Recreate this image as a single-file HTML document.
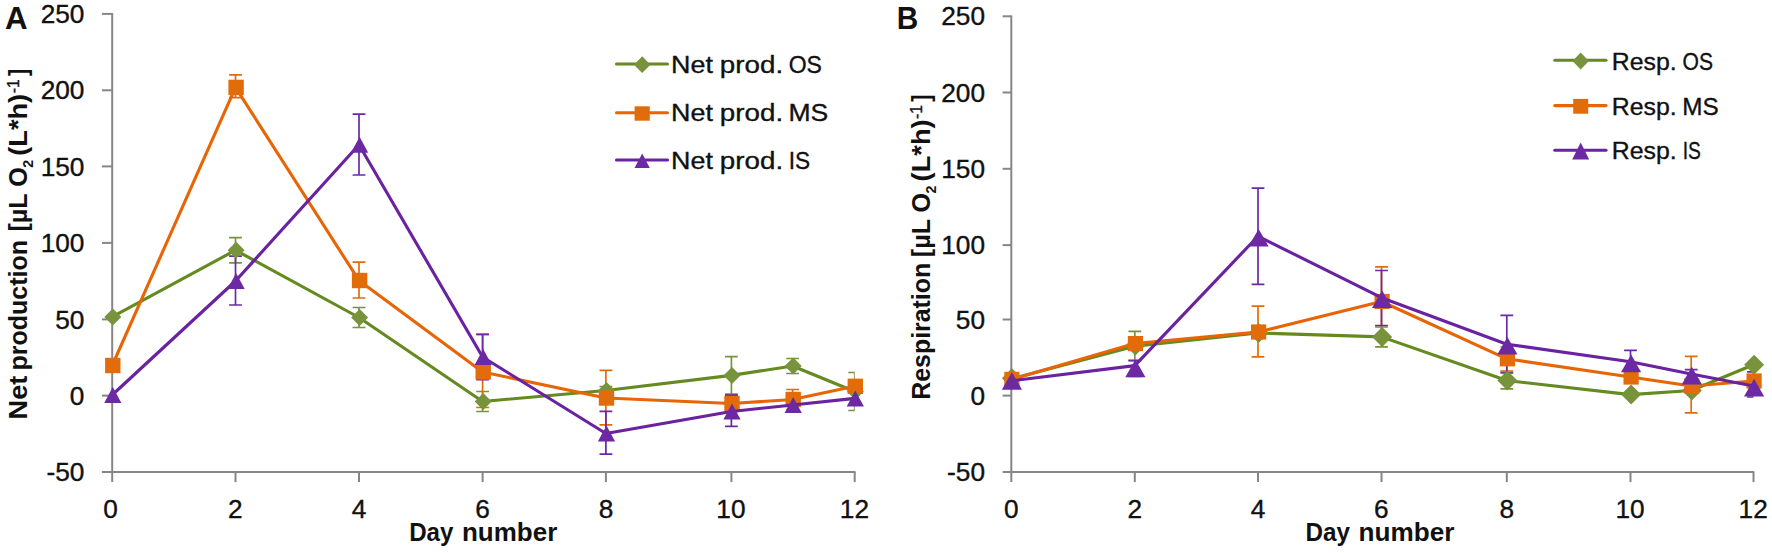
<!DOCTYPE html>
<html lang="en"><head><meta charset="utf-8"><title>Net production and respiration</title>
<style>html,body{margin:0;padding:0;background:#fff;}svg{display:block;}text{font-family:"Liberation Sans","DejaVu Sans",sans-serif;}</style></head>
<body><svg width="1772" height="553" viewBox="0 0 1772 553">
<rect width="1772" height="553" fill="#fff"/>
<g stroke="#868686" stroke-width="2.0" fill="none">
<line x1="112.2" y1="13.1" x2="112.2" y2="482.1"/>
<line x1="101.9" y1="472.1" x2="855.5" y2="472.1"/>
<line x1="101.9" y1="13.90" x2="112.2" y2="13.90"/>
<line x1="101.9" y1="90.30" x2="112.2" y2="90.30"/>
<line x1="101.9" y1="166.40" x2="112.2" y2="166.40"/>
<line x1="101.9" y1="242.90" x2="112.2" y2="242.90"/>
<line x1="101.9" y1="319.40" x2="112.2" y2="319.40"/>
<line x1="101.9" y1="395.60" x2="112.2" y2="395.60"/>
<line x1="235.50" y1="472.1" x2="235.50" y2="482.1"/>
<line x1="359.00" y1="472.1" x2="359.00" y2="482.1"/>
<line x1="482.60" y1="472.1" x2="482.60" y2="482.1"/>
<line x1="605.90" y1="472.1" x2="605.90" y2="482.1"/>
<line x1="731.40" y1="472.1" x2="731.40" y2="482.1"/>
<line x1="854.70" y1="472.1" x2="854.70" y2="482.1"/>
</g>
<clipPath id="clipA"><rect x="112.2" y="13.9" width="742.5" height="458.2"/></clipPath>
<g stroke="#77933C" stroke-width="1.7" fill="none" clip-path="url(#clipA)">
<path d="M235.5,237.6V262.8M229.1,237.6H241.9M229.1,262.8H241.9"/>
<path d="M359.0,307.5V327.5M352.6,307.5H365.4M352.6,327.5H365.4"/>
<path d="M482.6,391.5V411.5M476.2,391.5H489.0M476.2,411.5H489.0"/>
<path d="M605.9,386.5V394.5M599.5,386.5H612.3M599.5,394.5H612.3"/>
<path d="M731.4,356.7V394.1M725.0,356.7H737.8M725.0,394.1H737.8"/>
<path d="M792.6,358.5V373.5M786.2,358.5H799.0M786.2,373.5H799.0"/>
<path d="M854.7,372.5V410.5M848.3,372.5H861.1M848.3,410.5H861.1"/>
</g>
<g stroke="#E36C0A" stroke-width="1.7" fill="none" clip-path="url(#clipA)">
<path d="M235.5,74.9V97.6M229.1,74.9H241.9M229.1,97.6H241.9"/>
<path d="M359.0,262.2V298.0M352.6,262.2H365.4M352.6,298.0H365.4"/>
<path d="M482.6,334.3V407.5M476.2,334.3H489.0M476.2,407.5H489.0"/>
<path d="M605.9,370.4V424.9M599.5,370.4H612.3M599.5,424.9H612.3"/>
<path d="M731.4,395.5V411.5M725.0,395.5H737.8M725.0,411.5H737.8"/>
<path d="M792.6,389.5V409.5M786.2,389.5H799.0M786.2,409.5H799.0"/>
</g>
<g stroke="#6D28A4" stroke-width="1.7" fill="none" clip-path="url(#clipA)">
<path d="M235.5,256.2V305.0M229.1,256.2H241.9M229.1,305.0H241.9"/>
<path d="M359.0,114.1V175.0M352.6,114.1H365.4M352.6,175.0H365.4"/>
<path d="M482.6,334.3V379.7M476.2,334.3H489.0M476.2,379.7H489.0"/>
<path d="M605.9,411.4V454.2M599.5,411.4H612.3M599.5,454.2H612.3"/>
<path d="M731.4,395.2V426.3M725.0,395.2H737.8M725.0,426.3H737.8"/>
<path d="M792.6,399.0V411.0M786.2,399.0H799.0M786.2,411.0H799.0"/>
</g>
<path d="M112.2,316.9 L235.5,250.2 L359.0,317.5 L482.6,401.5 L605.9,390.5 L731.4,375.4 L792.6,366.0 L854.7,391.5" stroke="#648A20" stroke-width="3.1" fill="none" stroke-linejoin="round" stroke-linecap="round"/>
<polygon points="104.3,316.9 112.8,308.4 121.3,316.9 112.8,325.4" fill="#77933C"/>
<polygon points="227.6,250.2 236.1,241.7 244.6,250.2 236.1,258.7" fill="#77933C"/>
<polygon points="351.1,317.5 359.6,309.0 368.1,317.5 359.6,326.0" fill="#77933C"/>
<polygon points="474.7,401.5 483.2,393.0 491.7,401.5 483.2,410.0" fill="#77933C"/>
<polygon points="598.0,390.5 606.5,382.0 615.0,390.5 606.5,399.0" fill="#77933C"/>
<polygon points="723.5,375.4 732.0,366.9 740.5,375.4 732.0,383.9" fill="#77933C"/>
<polygon points="784.7,366.0 793.2,357.5 801.7,366.0 793.2,374.5" fill="#77933C"/>
<polygon points="846.8,391.5 855.3,383.0 863.8,391.5 855.3,400.0" fill="#77933C"/>
<path d="M112.2,365.5 L235.5,87.4 L359.0,280.5 L482.6,372.0 L605.9,398.0 L731.4,403.5 L792.6,399.5 L854.7,386.3" stroke="#E86506" stroke-width="3.1" fill="none" stroke-linejoin="round" stroke-linecap="round"/>
<rect x="105.1" y="357.8" width="15.4" height="15.4" fill="#E36C0A"/>
<rect x="228.4" y="79.7" width="15.4" height="15.4" fill="#E36C0A"/>
<rect x="351.9" y="272.8" width="15.4" height="15.4" fill="#E36C0A"/>
<rect x="475.5" y="364.3" width="15.4" height="15.4" fill="#E36C0A"/>
<rect x="598.8" y="390.3" width="15.4" height="15.4" fill="#E36C0A"/>
<rect x="724.3" y="395.8" width="15.4" height="15.4" fill="#E36C0A"/>
<rect x="785.5" y="391.8" width="15.4" height="15.4" fill="#E36C0A"/>
<rect x="847.6" y="378.6" width="15.4" height="15.4" fill="#E36C0A"/>
<path d="M112.2,395.0 L235.5,281.0 L359.0,144.8 L482.6,357.0 L605.9,433.5 L731.4,411.5 L792.6,405.0 L854.7,398.4" stroke="#6A22A0" stroke-width="3.1" fill="none" stroke-linejoin="round" stroke-linecap="round"/>
<polygon points="112.8,387.0 121.4,403.0 104.2,403.0" fill="#6D28A4"/>
<polygon points="236.1,273.0 244.7,289.0 227.5,289.0" fill="#6D28A4"/>
<polygon points="359.6,136.8 368.2,152.8 351.0,152.8" fill="#6D28A4"/>
<polygon points="483.2,349.0 491.8,365.0 474.6,365.0" fill="#6D28A4"/>
<polygon points="606.5,425.5 615.1,441.5 597.9,441.5" fill="#6D28A4"/>
<polygon points="732.0,403.5 740.6,419.5 723.4,419.5" fill="#6D28A4"/>
<polygon points="793.2,397.0 801.8,413.0 784.6,413.0" fill="#6D28A4"/>
<polygon points="855.3,390.4 863.9,406.4 846.7,406.4" fill="#6D28A4"/>
<g stroke="#868686" stroke-width="2.0" fill="none">
<line x1="1011.3" y1="15.5" x2="1011.3" y2="482.1"/>
<line x1="1002.5999999999999" y1="472.1" x2="1754.3" y2="472.1"/>
<line x1="1002.5999999999999" y1="16.30" x2="1011.3" y2="16.30"/>
<line x1="1002.5999999999999" y1="92.50" x2="1011.3" y2="92.50"/>
<line x1="1002.5999999999999" y1="168.80" x2="1011.3" y2="168.80"/>
<line x1="1002.5999999999999" y1="245.10" x2="1011.3" y2="245.10"/>
<line x1="1002.5999999999999" y1="319.50" x2="1011.3" y2="319.50"/>
<line x1="1002.5999999999999" y1="395.60" x2="1011.3" y2="395.60"/>
<line x1="1134.80" y1="472.1" x2="1134.80" y2="482.1"/>
<line x1="1258.00" y1="472.1" x2="1258.00" y2="482.1"/>
<line x1="1381.50" y1="472.1" x2="1381.50" y2="482.1"/>
<line x1="1506.80" y1="472.1" x2="1506.80" y2="482.1"/>
<line x1="1630.50" y1="472.1" x2="1630.50" y2="482.1"/>
<line x1="1753.50" y1="472.1" x2="1753.50" y2="482.1"/>
</g>
<clipPath id="clipB"><rect x="1011.3" y="16.3" width="742.2" height="455.8"/></clipPath>
<g stroke="#77933C" stroke-width="1.7" fill="none" clip-path="url(#clipB)">
<path d="M1134.8,331.4V360.4M1128.4,331.4H1141.2M1128.4,360.4H1141.2"/>
<path d="M1381.5,327.0V346.8M1375.1,327.0H1387.9M1375.1,346.8H1387.9"/>
<path d="M1506.8,372.2V388.8M1500.4,372.2H1513.2M1500.4,388.8H1513.2"/>
</g>
<g stroke="#E36C0A" stroke-width="1.7" fill="none" clip-path="url(#clipB)">
<path d="M1258.0,306.1V356.8M1251.6,306.1H1264.4M1251.6,356.8H1264.4"/>
<path d="M1381.5,266.9V336.0M1375.1,266.9H1387.9M1375.1,336.0H1387.9"/>
<path d="M1506.8,347.0V371.0M1500.4,347.0H1513.2M1500.4,371.0H1513.2"/>
<path d="M1691.2,356.4V412.9M1684.8,356.4H1697.6M1684.8,412.9H1697.6"/>
</g>
<g stroke="#6D28A4" stroke-width="1.7" fill="none" clip-path="url(#clipB)">
<path d="M1134.8,360.6V376.4M1128.4,360.6H1141.2M1128.4,376.4H1141.2"/>
<path d="M1258.0,188.1V284.3M1251.6,188.1H1264.4M1251.6,284.3H1264.4"/>
<path d="M1381.5,270.5V325.5M1375.1,270.5H1387.9M1375.1,325.5H1387.9"/>
<path d="M1506.8,315.4V373.0M1500.4,315.4H1513.2M1500.4,373.0H1513.2"/>
<path d="M1630.5,350.4V374.5M1624.1,350.4H1636.9M1624.1,374.5H1636.9"/>
<path d="M1691.2,369.7V385.0M1684.8,369.7H1697.6M1684.8,385.0H1697.6"/>
<path d="M1753.5,371.8V397.0M1747.1,371.8H1759.9M1747.1,397.0H1759.9"/>
</g>
<path d="M1011.3,378.8 L1134.8,346.3 L1258.0,333.0 L1381.5,336.9 L1506.8,380.5 L1630.5,394.6 L1691.2,390.5 L1753.5,364.8" stroke="#648A20" stroke-width="3.1" fill="none" stroke-linejoin="round" stroke-linecap="round"/>
<polygon points="1001.9,378.2 1011.9,368.2 1021.9,378.2 1011.9,388.2" fill="#77933C"/>
<polygon points="1125.4,345.5 1135.4,335.5 1145.4,345.5 1135.4,355.5" fill="#77933C"/>
<polygon points="1248.6,333.0 1258.6,323.0 1268.6,333.0 1258.6,343.0" fill="#77933C"/>
<polygon points="1372.1,336.9 1382.1,326.9 1392.1,336.9 1382.1,346.9" fill="#77933C"/>
<polygon points="1497.4,380.5 1507.4,370.5 1517.4,380.5 1507.4,390.5" fill="#77933C"/>
<polygon points="1621.1,394.6 1631.1,384.6 1641.1,394.6 1631.1,404.6" fill="#77933C"/>
<polygon points="1681.8,390.5 1691.8,380.5 1701.8,390.5 1691.8,400.5" fill="#77933C"/>
<polygon points="1744.1,364.8 1754.1,354.8 1764.1,364.8 1754.1,374.8" fill="#77933C"/>
<path d="M1011.3,379.4 L1134.8,343.6 L1258.0,332.0 L1381.5,301.5 L1506.8,358.8 L1630.5,377.0 L1691.2,386.0 L1753.5,381.0" stroke="#E86506" stroke-width="3.1" fill="none" stroke-linejoin="round" stroke-linecap="round"/>
<rect x="1004.3" y="371.8" width="15.2" height="15.2" fill="#E36C0A"/>
<rect x="1127.8" y="336.0" width="15.2" height="15.2" fill="#E36C0A"/>
<rect x="1251.0" y="324.4" width="15.2" height="15.2" fill="#E36C0A"/>
<rect x="1374.5" y="293.9" width="15.2" height="15.2" fill="#E36C0A"/>
<rect x="1499.8" y="351.2" width="15.2" height="15.2" fill="#E36C0A"/>
<rect x="1623.5" y="369.4" width="15.2" height="15.2" fill="#E36C0A"/>
<rect x="1684.2" y="378.4" width="15.2" height="15.2" fill="#E36C0A"/>
<rect x="1746.5" y="373.4" width="15.2" height="15.2" fill="#E36C0A"/>
<path d="M1011.3,380.8 L1134.8,365.6 L1258.0,236.2 L1381.5,297.7 L1506.8,344.2 L1630.5,361.8 L1691.2,374.0 L1753.5,386.0" stroke="#6A22A0" stroke-width="3.1" fill="none" stroke-linejoin="round" stroke-linecap="round"/>
<polygon points="1011.9,372.2 1022.0,389.8 1001.8,389.8" fill="#6D28A4"/>
<polygon points="1135.4,359.6 1145.5,377.2 1125.3,377.2" fill="#6D28A4"/>
<polygon points="1258.6,229.0 1268.7,246.6 1248.5,246.6" fill="#6D28A4"/>
<polygon points="1382.1,290.5 1392.2,308.1 1372.0,308.1" fill="#6D28A4"/>
<polygon points="1507.4,337.0 1517.5,354.6 1497.3,354.6" fill="#6D28A4"/>
<polygon points="1631.1,354.6 1641.2,372.2 1621.0,372.2" fill="#6D28A4"/>
<polygon points="1691.8,366.8 1701.9,384.4 1681.7,384.4" fill="#6D28A4"/>
<polygon points="1754.1,378.8 1764.2,396.4 1744.0,396.4" fill="#6D28A4"/>
<line x1="616.5" y1="64" x2="667.5" y2="64" stroke="#648A20" stroke-width="3.1" stroke-linecap="round"/>
<polygon points="634.0,64.7 642.2,56.3 650.4,64.7 642.2,73.1" fill="#77933C"/>
<line x1="616.5" y1="112.8" x2="667.5" y2="112.8" stroke="#E86506" stroke-width="3.1" stroke-linecap="round"/>
<rect x="634.6" y="106.3" width="15.2" height="14.4" fill="#E36C0A"/>
<line x1="616.5" y1="160" x2="667.5" y2="160" stroke="#6A22A0" stroke-width="3.1" stroke-linecap="round"/>
<polygon points="642.2,153.4 649.8,168.0 634.6,168.0" fill="#6D28A4"/>
<line x1="1554.8" y1="60.3" x2="1606" y2="60.3" stroke="#648A20" stroke-width="3.1" stroke-linecap="round"/>
<polygon points="1572.5,61.0 1580.7,52.4 1588.9,61.0 1580.7,69.6" fill="#77933C"/>
<line x1="1554.8" y1="105.6" x2="1606" y2="105.6" stroke="#E86506" stroke-width="3.1" stroke-linecap="round"/>
<rect x="1573.2" y="98.9" width="15.0" height="14.8" fill="#E36C0A"/>
<line x1="1554.8" y1="150.3" x2="1606" y2="150.3" stroke="#6A22A0" stroke-width="3.1" stroke-linecap="round"/>
<polygon points="1580.7,142.5 1589.2,159.5 1572.2,159.5" fill="#6D28A4"/>
<text x="5.11" y="28.80"  fill="#111" stroke="#111" font-size="32.03" font-weight="bold" stroke-width="0.0" textLength="22.58" lengthAdjust="spacingAndGlyphs">A</text>
<text x="896.64" y="28.80"  fill="#111" stroke="#111" font-size="32.03" font-weight="bold" stroke-width="0.0" textLength="21.49" lengthAdjust="spacingAndGlyphs">B</text>
<text  fill="#111" stroke="#111"><tspan x="671.10" y="73.30" font-size="24.35" font-weight="normal" stroke-width="0.35" textLength="41.81" lengthAdjust="spacingAndGlyphs">Net</tspan> <tspan x="719.87" y="73.30" font-size="24.35" font-weight="normal" stroke-width="0.35" textLength="63.24" lengthAdjust="spacingAndGlyphs">prod.</tspan> <tspan x="788.72" y="73.30" font-size="24.35" font-weight="normal" stroke-width="0.35" textLength="33.24" lengthAdjust="spacingAndGlyphs">OS</tspan></text>
<text  fill="#111" stroke="#111"><tspan x="671.10" y="121.00" font-size="24.35" font-weight="normal" stroke-width="0.35" textLength="41.81" lengthAdjust="spacingAndGlyphs">Net</tspan> <tspan x="719.87" y="121.00" font-size="24.35" font-weight="normal" stroke-width="0.35" textLength="63.24" lengthAdjust="spacingAndGlyphs">prod.</tspan> <tspan x="788.43" y="121.00" font-size="24.35" font-weight="normal" stroke-width="0.35" textLength="39.79" lengthAdjust="spacingAndGlyphs">MS</tspan></text>
<text  fill="#111" stroke="#111"><tspan x="671.10" y="169.00" font-size="24.35" font-weight="normal" stroke-width="0.35" textLength="41.81" lengthAdjust="spacingAndGlyphs">Net</tspan> <tspan x="719.87" y="169.00" font-size="24.35" font-weight="normal" stroke-width="0.35" textLength="63.24" lengthAdjust="spacingAndGlyphs">prod.</tspan> <tspan x="788.73" y="169.00" font-size="24.35" font-weight="normal" stroke-width="0.35" textLength="21.42" lengthAdjust="spacingAndGlyphs">IS</tspan></text>
<text  fill="#111" stroke="#111"><tspan x="1611.76" y="69.60" font-size="24.49" font-weight="normal" stroke-width="0.35" textLength="64.88" lengthAdjust="spacingAndGlyphs">Resp.</tspan> <tspan x="1682.51" y="69.60" font-size="24.49" font-weight="normal" stroke-width="0.35" textLength="30.47" lengthAdjust="spacingAndGlyphs">OS</tspan></text>
<text  fill="#111" stroke="#111"><tspan x="1611.76" y="114.50" font-size="24.49" font-weight="normal" stroke-width="0.35" textLength="64.88" lengthAdjust="spacingAndGlyphs">Resp.</tspan> <tspan x="1682.30" y="114.50" font-size="24.49" font-weight="normal" stroke-width="0.35" textLength="36.42" lengthAdjust="spacingAndGlyphs">MS</tspan></text>
<text  fill="#111" stroke="#111"><tspan x="1611.76" y="159.00" font-size="24.49" font-weight="normal" stroke-width="0.35" textLength="64.88" lengthAdjust="spacingAndGlyphs">Resp.</tspan> <tspan x="1682.69" y="159.00" font-size="24.49" font-weight="normal" stroke-width="0.35" textLength="18.22" lengthAdjust="spacingAndGlyphs">IS</tspan></text>
<text  fill="#111" stroke="#111"><tspan x="409.14" y="541.30" font-size="25.36" font-weight="bold" stroke-width="0.0" textLength="44.31" lengthAdjust="spacingAndGlyphs">Day</tspan> <tspan x="461.98" y="541.30" font-size="25.36" font-weight="bold" stroke-width="0.0" textLength="95.29" lengthAdjust="spacingAndGlyphs">number</tspan></text>
<text  fill="#111" stroke="#111"><tspan x="1305.59" y="541.00" font-size="25.36" font-weight="bold" stroke-width="0.0" textLength="44.46" lengthAdjust="spacingAndGlyphs">Day</tspan> <tspan x="1358.57" y="541.00" font-size="25.36" font-weight="bold" stroke-width="0.0" textLength="95.80" lengthAdjust="spacingAndGlyphs">number</tspan></text>
<text x="40.65" y="23.05"  fill="#111" stroke="#111" font-size="24.96" font-weight="normal" stroke-width="0.35" textLength="43.80" lengthAdjust="spacingAndGlyphs">250</text>
<text x="40.65" y="99.45"  fill="#111" stroke="#111" font-size="24.96" font-weight="normal" stroke-width="0.35" textLength="43.80" lengthAdjust="spacingAndGlyphs">200</text>
<text x="40.65" y="175.55"  fill="#111" stroke="#111" font-size="24.96" font-weight="normal" stroke-width="0.35" textLength="43.80" lengthAdjust="spacingAndGlyphs">150</text>
<text x="40.65" y="252.05"  fill="#111" stroke="#111" font-size="24.96" font-weight="normal" stroke-width="0.35" textLength="43.80" lengthAdjust="spacingAndGlyphs">100</text>
<text x="55.25" y="328.55"  fill="#111" stroke="#111" font-size="24.96" font-weight="normal" stroke-width="0.35" textLength="29.20" lengthAdjust="spacingAndGlyphs">50</text>
<text x="69.85" y="404.75"  fill="#111" stroke="#111" font-size="24.96" font-weight="normal" stroke-width="0.35" textLength="14.60" lengthAdjust="spacingAndGlyphs">0</text>
<text x="46.51" y="481.25"  fill="#111" stroke="#111" font-size="24.96" font-weight="normal" stroke-width="0.35" textLength="37.94" lengthAdjust="spacingAndGlyphs">-50</text>
<text x="103.32" y="518.20"  fill="#111" stroke="#111" font-size="25.11" font-weight="normal" stroke-width="0.35" textLength="14.60" lengthAdjust="spacingAndGlyphs">0</text>
<text x="228.12" y="518.20"  fill="#111" stroke="#111" font-size="25.11" font-weight="normal" stroke-width="0.35" textLength="14.60" lengthAdjust="spacingAndGlyphs">2</text>
<text x="351.82" y="518.20"  fill="#111" stroke="#111" font-size="25.11" font-weight="normal" stroke-width="0.35" textLength="14.60" lengthAdjust="spacingAndGlyphs">4</text>
<text x="475.22" y="518.20"  fill="#111" stroke="#111" font-size="25.11" font-weight="normal" stroke-width="0.35" textLength="14.60" lengthAdjust="spacingAndGlyphs">6</text>
<text x="598.72" y="518.20"  fill="#111" stroke="#111" font-size="25.11" font-weight="normal" stroke-width="0.35" textLength="14.60" lengthAdjust="spacingAndGlyphs">8</text>
<text x="716.31" y="518.20"  fill="#111" stroke="#111" font-size="25.11" font-weight="normal" stroke-width="0.35" textLength="29.20" lengthAdjust="spacingAndGlyphs">10</text>
<text x="839.81" y="518.20"  fill="#111" stroke="#111" font-size="25.11" font-weight="normal" stroke-width="0.35" textLength="29.20" lengthAdjust="spacingAndGlyphs">12</text>
<text x="941.25" y="25.45"  fill="#111" stroke="#111" font-size="24.96" font-weight="normal" stroke-width="0.35" textLength="43.80" lengthAdjust="spacingAndGlyphs">250</text>
<text x="941.25" y="101.65"  fill="#111" stroke="#111" font-size="24.96" font-weight="normal" stroke-width="0.35" textLength="43.80" lengthAdjust="spacingAndGlyphs">200</text>
<text x="941.25" y="177.95"  fill="#111" stroke="#111" font-size="24.96" font-weight="normal" stroke-width="0.35" textLength="43.80" lengthAdjust="spacingAndGlyphs">150</text>
<text x="941.25" y="254.25"  fill="#111" stroke="#111" font-size="24.96" font-weight="normal" stroke-width="0.35" textLength="43.80" lengthAdjust="spacingAndGlyphs">100</text>
<text x="955.85" y="328.65"  fill="#111" stroke="#111" font-size="24.96" font-weight="normal" stroke-width="0.35" textLength="29.20" lengthAdjust="spacingAndGlyphs">50</text>
<text x="970.45" y="404.75"  fill="#111" stroke="#111" font-size="24.96" font-weight="normal" stroke-width="0.35" textLength="14.60" lengthAdjust="spacingAndGlyphs">0</text>
<text x="947.11" y="481.25"  fill="#111" stroke="#111" font-size="24.96" font-weight="normal" stroke-width="0.35" textLength="37.94" lengthAdjust="spacingAndGlyphs">-50</text>
<text x="1003.92" y="518.20"  fill="#111" stroke="#111" font-size="25.11" font-weight="normal" stroke-width="0.35" textLength="14.60" lengthAdjust="spacingAndGlyphs">0</text>
<text x="1127.42" y="518.20"  fill="#111" stroke="#111" font-size="25.11" font-weight="normal" stroke-width="0.35" textLength="14.60" lengthAdjust="spacingAndGlyphs">2</text>
<text x="1250.82" y="518.20"  fill="#111" stroke="#111" font-size="25.11" font-weight="normal" stroke-width="0.35" textLength="14.60" lengthAdjust="spacingAndGlyphs">4</text>
<text x="1374.12" y="518.20"  fill="#111" stroke="#111" font-size="25.11" font-weight="normal" stroke-width="0.35" textLength="14.60" lengthAdjust="spacingAndGlyphs">6</text>
<text x="1499.62" y="518.20"  fill="#111" stroke="#111" font-size="25.11" font-weight="normal" stroke-width="0.35" textLength="14.60" lengthAdjust="spacingAndGlyphs">8</text>
<text x="1615.41" y="518.20"  fill="#111" stroke="#111" font-size="25.11" font-weight="normal" stroke-width="0.35" textLength="29.20" lengthAdjust="spacingAndGlyphs">10</text>
<text x="1738.61" y="518.20"  fill="#111" stroke="#111" font-size="25.11" font-weight="normal" stroke-width="0.35" textLength="29.20" lengthAdjust="spacingAndGlyphs">12</text>
<text transform="translate(26.90,417.70) rotate(-90)"  fill="#111" stroke="#111"><tspan x="-1.70" y="0.00" font-size="26.38" font-weight="bold" stroke-width="0.0" textLength="43.73" lengthAdjust="spacingAndGlyphs">Net</tspan> <tspan x="47.14" y="0.00" font-size="26.38" font-weight="bold" stroke-width="0.0" textLength="130.57" lengthAdjust="spacingAndGlyphs">production</tspan> <tspan x="186.13" y="0.00" font-size="26.38" font-weight="bold" stroke-width="0.0" textLength="64.37" lengthAdjust="spacingAndGlyphs">[µL O</tspan><tspan x="249.86" y="5.70" font-size="15.32" font-weight="bold" stroke-width="0.0" textLength="7.90" lengthAdjust="spacingAndGlyphs">2</tspan> <tspan x="261.92" y="0.00" font-size="26.38" font-weight="bold" stroke-width="0.0" textLength="61.96" lengthAdjust="spacingAndGlyphs">(L*h)</tspan><tspan x="324.41" y="-7.90" font-size="16.03" font-weight="normal" stroke-width="0.35" textLength="13.82" lengthAdjust="spacingAndGlyphs">-1</tspan><tspan x="341.60" y="0.00" font-size="26.38" font-weight="bold" stroke-width="0.0" textLength="7.22" lengthAdjust="spacingAndGlyphs">]</tspan></text>
<text transform="translate(930.00,398.20) rotate(-90)"  fill="#111" stroke="#111"><tspan x="-1.56" y="0.00" font-size="26.38" font-weight="bold" stroke-width="0.0" textLength="136.96" lengthAdjust="spacingAndGlyphs">Respiration</tspan> <tspan x="141.03" y="0.00" font-size="26.38" font-weight="bold" stroke-width="0.0" textLength="64.37" lengthAdjust="spacingAndGlyphs">[µL O</tspan><tspan x="204.76" y="5.70" font-size="15.32" font-weight="bold" stroke-width="0.0" textLength="7.90" lengthAdjust="spacingAndGlyphs">2</tspan> <tspan x="216.82" y="0.00" font-size="26.38" font-weight="bold" stroke-width="0.0" textLength="61.96" lengthAdjust="spacingAndGlyphs">(L*h)</tspan><tspan x="279.31" y="-7.90" font-size="16.03" font-weight="normal" stroke-width="0.35" textLength="13.82" lengthAdjust="spacingAndGlyphs">-1</tspan><tspan x="296.50" y="0.00" font-size="26.38" font-weight="bold" stroke-width="0.0" textLength="7.22" lengthAdjust="spacingAndGlyphs">]</tspan></text>
</svg></body></html>
